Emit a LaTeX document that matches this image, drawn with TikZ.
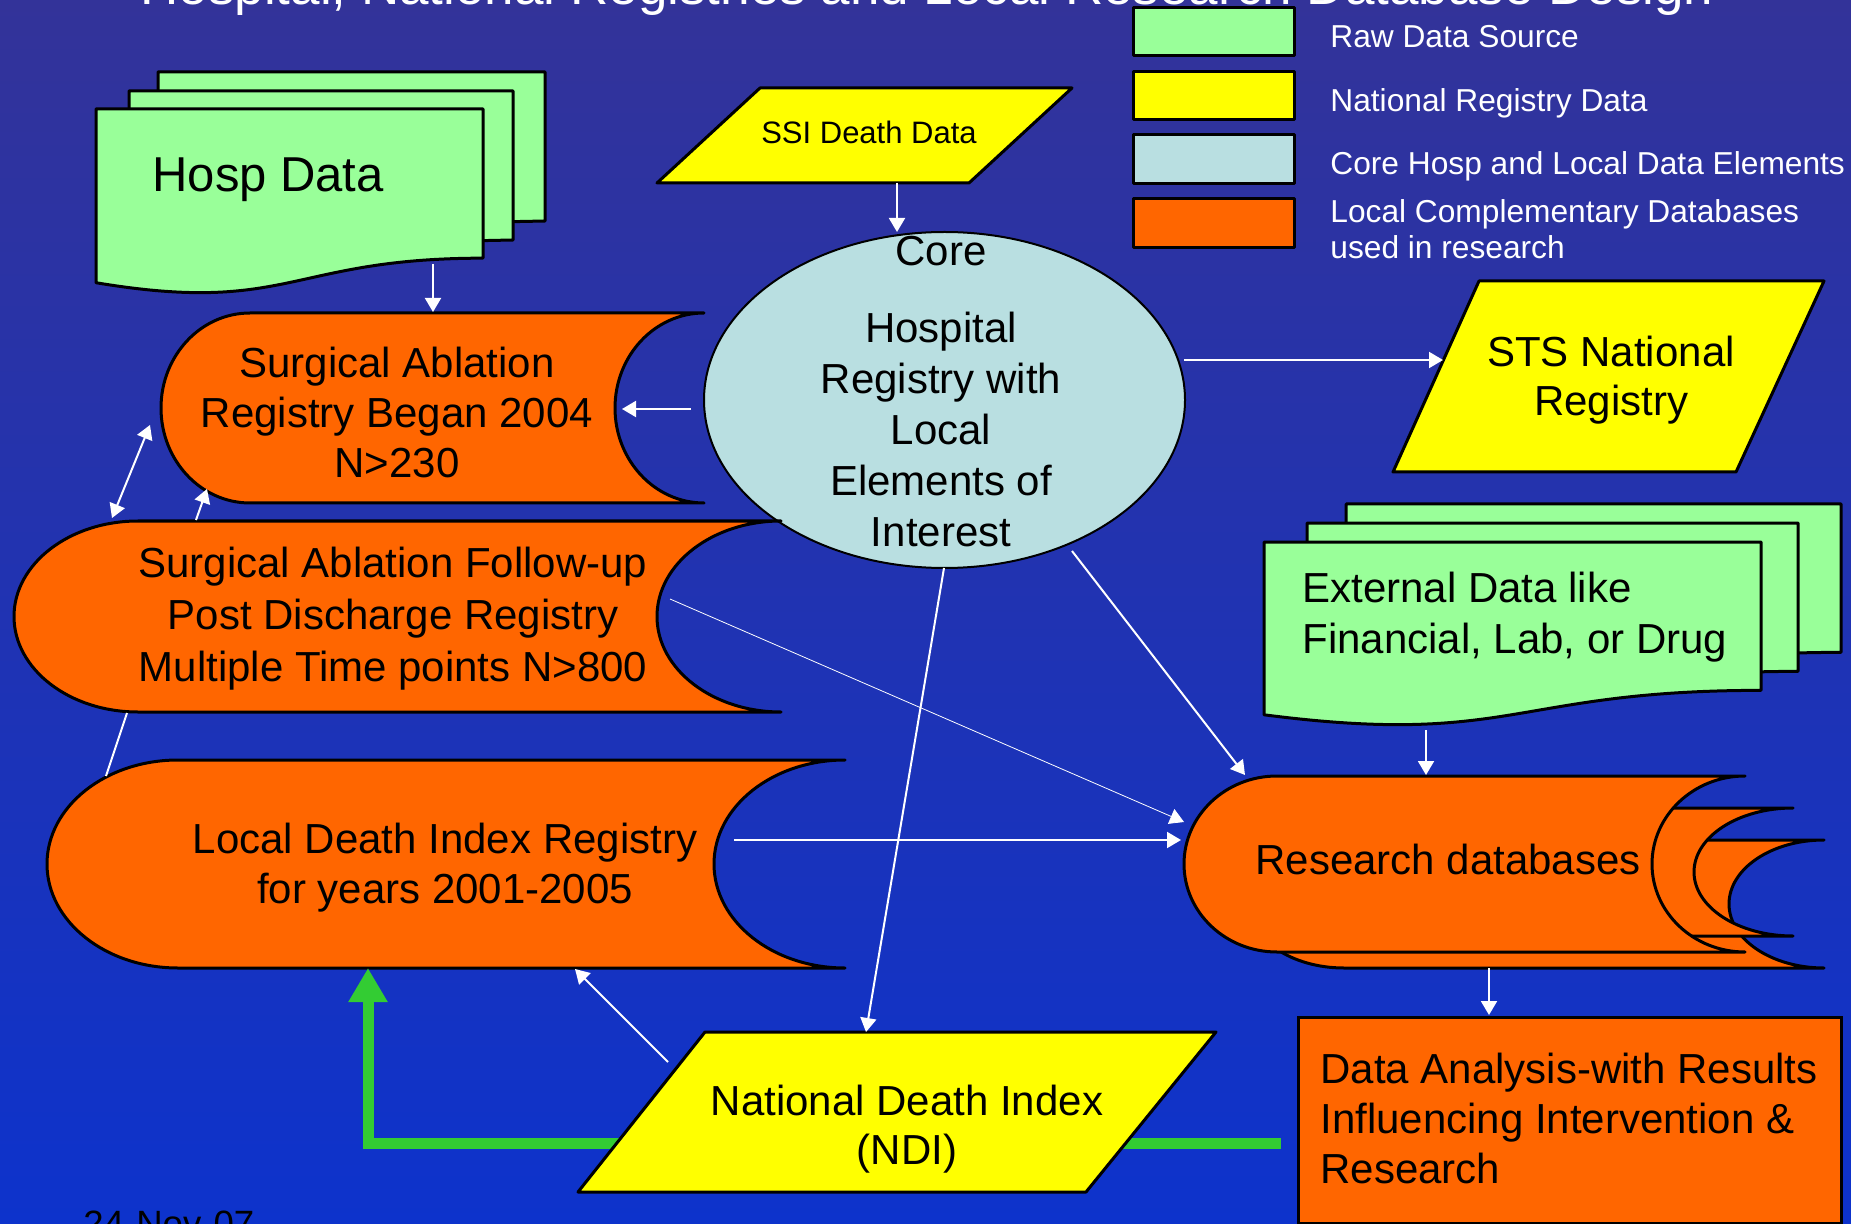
\documentclass[tikz,border=0pt]{standalone}
\usepackage{fontspec}
\setmainfont{Liberation Sans}
\usetikzlibrary{arrows.meta,shapes.geometric}

\definecolor{bgtop}{RGB}{51,51,153}
\definecolor{bgbot}{RGB}{13,51,204}
\definecolor{rawgreen}{RGB}{153,255,153}
\definecolor{natyellow}{RGB}{255,255,0}
\definecolor{corecol}{RGB}{185,223,225}
\definecolor{localorange}{RGB}{255,102,0}
\definecolor{arrowgreen}{RGB}{51,204,51}

\newcommand\mlc[1]{\begin{tabular}[t]{@{}c@{}}#1\end{tabular}}
\newcommand\mll[1]{\begin{tabular}[t]{@{}l@{}}#1\end{tabular}}

% stored-data shape: xl, yt, xr, yb, bulge
\newcommand\storeddata[6][]{%
  \filldraw[#1] (#2,#3) -- (#4,#3)
    .. controls +({-0.5523*#6},0) and +(0,{-0.5523*(#5-#3)/2}) .. ({#4-#6},{(#3+#5)/2})
    .. controls +(0,{0.5523*(#5-#3)/2}) and +({-0.5523*#6},0) .. (#4,#5)
    -- (#2,#5)
    .. controls +({-0.5523*#6},0) and +(0,{0.5523*(#5-#3)/2}) .. ({#2-#6},{(#3+#5)/2})
    .. controls +(0,{-0.5523*(#5-#3)/2}) and +({-0.5523*#6},0) .. (#2,#3) -- cycle;}

% document sheet: x0, y0, w, h
\newcommand\docsheet[5][]{%
  \filldraw[#1] (#2,#3) -- ({#2+#4},#3) -- ({#2+#4},{#3+0.802*#5})
    .. controls ({#2+#4/2},{#3+0.802*#5}) and ({#2+#4/2},{#3+1.1075*#5}) .. (#2,{#3+0.934*#5}) -- cycle;}

\begin{document}
\begin{tikzpicture}[x=0.5pt,y=-0.5pt,
  warrow/.style={white, line width=1pt, -{Triangle[length=7pt,width=8pt]}},
  outline/.style={draw=black, line width=1.5pt, line join=round},
  maintext/.style={font=\fontsize{21}{25}\selectfont, inner sep=0pt, text=black},
  legendtext/.style={font=\fontsize{15.85}{18}\selectfont, inner sep=0pt, text=white, anchor=base west},
]
\useasboundingbox (0,0) rectangle (1851,1224);
\clip (0,0) rectangle (1851,1224);
\shade[top color=bgtop, bottom color=bgbot] (0,0) rectangle (1851,1224);

% title (cut off at top)
\node[anchor=base, text=white, font=\fontsize{26.5}{30}\selectfont, inner sep=0pt] (title) at (927,5)
  {Hospital, National Registries and Local Research Database Design};

% legend
\filldraw[outline, fill=rawgreen] (1133,8) rectangle (1294,56);
\filldraw[outline, fill=natyellow] (1133,72) rectangle (1294,120);
\filldraw[outline, fill=corecol] (1133,135) rectangle (1294,184);
\filldraw[outline, fill=localorange] (1133,199) rectangle (1294,248);
\node[legendtext] (lg1) at (1330,48) {Raw Data Source};
\node[legendtext] (lg2) at (1330,112) {National Registry Data};
\node[legendtext] (lg3) at (1330,175) {Core Hosp and Local Data Elements};
\node[legendtext] (lg4) at (1330,223) {\mll{Local Complementary Databases\\used in research}};

% Hosp Data sheets
\docsheet[outline, fill=rawgreen]{158}{72}{387}{186}
\docsheet[outline, fill=rawgreen]{129}{91}{384}{186}
\docsheet[outline, fill=rawgreen]{96}{109}{387}{186}
\node[anchor=base west, font=\fontsize{24.5}{28}\selectfont, inner sep=0pt] (hosp) at (152,192) {Hosp Data};

% SSI Death Data
\filldraw[outline, fill=natyellow] (760,88) -- (1072,88) -- (969,183) -- (657,183) -- cycle;
\node[anchor=base, font=\fontsize{15.5}{18}\selectfont, inner sep=0pt] (ssi) at (869,144) {SSI Death Data};

% Core ellipse
\node[ellipse, draw=black, line width=1pt, fill=corecol, minimum width=240.5pt, minimum height=168pt, inner sep=0pt] (core) at (944.5,400) {};
\node[maintext, anchor=base, font=\fontsize{21}{25.5}\selectfont] (coretext) at (941,266)
  {\mlc{Core\\[13pt]Hospital\\Registry with\\Local\\Elements of\\Interest}};

% STS National Registry
\filldraw[outline, fill=natyellow] (1479,281) -- (1824,281) -- (1736,472) -- (1393,472) -- cycle;
\node[maintext, anchor=base, font=\fontsize{21}{24.5}\selectfont] (sts) at (1611,367) {\mlc{STS National\\Registry}};

% orange stored-data shapes
\storeddata[outline, fill=localorange]{250}{313}{704}{503}{89}
\node[maintext, anchor=base] (surg) at (397,378) {\mlc{Surgical Ablation\\Registry Began 2004\\N>230}};

\storeddata[outline, fill=localorange]{138}{521}{781}{712}{124}
\node[maintext, anchor=base, font=\fontsize{21}{26.2}\selectfont] (follow) at (393,577)
  {\mlc{Surgical Ablation Follow-up\\Post Discharge Registry\\Multiple Time points N>800}};

\storeddata[outline, fill=localorange]{178}{760}{845}{968}{131}
\node[maintext, anchor=base] (local) at (445,853) {\mlc{Local Death Index Registry\\for years 2001-2005}};

% External data sheets
\docsheet[outline, fill=rawgreen]{1346}{504}{495}{185}
\docsheet[outline, fill=rawgreen]{1307}{523}{491}{185}
\docsheet[outline, fill=rawgreen]{1264}{542}{497}{185}
\node[maintext, anchor=base west, font=\fontsize{21}{25.5}\selectfont] (ext) at (1302,602) {\mll{External Data like\\Financial, Lab, or Drug}};

% Research databases (stacked)
\storeddata[outline, fill=localorange]{1344}{840}{1824}{968}{95}
\storeddata[outline, fill=localorange]{1320}{808}{1793}{936}{99}
\storeddata[outline, fill=localorange]{1277}{776}{1745}{952}{93}
\node[maintext, anchor=base] (research) at (1448,874) {Research databases};

% Data analysis box
\node[draw=black, line width=1.5pt, fill=localorange, minimum width=271.5pt, minimum height=103pt, anchor=north west, inner sep=0pt] (da) at (1297,1016) {};
\node[maintext, anchor=base west] (datext) at (1320,1083) {\mll{Data Analysis-with Results\\Influencing Intervention \&\\Research}};

% green feedback arrow (behind NDI)
\coordinate (gstart) at (1281,1143);
\coordinate (gend) at (368,968);
\draw[arrowgreen, line width=5.5pt, -{Triangle[length=17pt,width=18.5pt]}] (gstart) -| (gend);

% National Death Index
\filldraw[outline, fill=natyellow] (705,1032) -- (1216,1032) -- (1086,1192) -- (578,1192) -- cycle;
\node[maintext, anchor=base, font=\fontsize{21}{24.5}\selectfont] (ndi) at (907,1115) {\mlc{National Death Index\\(NDI)}};

% date
\node[anchor=base west, font=\fontsize{18.3}{20}\selectfont, inner sep=0pt, text=black] (date) at (83,1236) {24-Nov-07};

% connector end points
\coordinate (hospout) at (433,264);   \coordinate (surgin) at (433,312);
\coordinate (ssiout) at (897,183);    \coordinate (corein) at (897,232);
\coordinate (coreW) at (691,409);     \coordinate (surgE) at (622,409);
\coordinate (surgW) at (150,425);     \coordinate (followN) at (112,518);
\coordinate (followN2) at (196,520);  \coordinate (surgSW) at (207,489);
\coordinate (followS) at (127,713);   \coordinate (localN) at (106,776);
\coordinate (coreE) at (1184,360);    \coordinate (stsW) at (1443,360);
\coordinate (coreSE) at (1072,551);   \coordinate (resNW) at (1245,775);
\coordinate (coreS) at (944,568);     \coordinate (ndiN) at (866,1032);
\coordinate (followE) at (670,599);   \coordinate (resW1) at (1184,822);
\coordinate (localE) at (734,840);    \coordinate (resW2) at (1181,840);
\coordinate (extS) at (1426,730);     \coordinate (resN) at (1426,775);
\coordinate (resS) at (1489,968);     \coordinate (daN) at (1489,1015);
\coordinate (ndiNW) at (668,1062);    \coordinate (localS) at (575,969);

% white connectors
\draw[warrow] (hospout) -- (surgin);
\draw[warrow] (ssiout) -- (corein);
\draw[warrow] (coreW) -- (surgE);
\draw[white, line width=1pt, {Triangle[length=7pt,width=8pt]}-{Triangle[length=7pt,width=8pt]}] (surgW) -- (followN);
\draw[warrow] (followN2) -- (surgSW);
\draw[white, line width=1pt] (followS) -- (localN);
\draw[warrow] (coreE) -- (stsW);
\draw[warrow] (coreSE) -- (resNW);
\draw[warrow] (coreS) -- (ndiN);
\draw[white, line width=0.4pt, -{Triangle[length=7pt,width=8pt]}] (followE) -- (resW1);
\draw[warrow] (localE) -- (resW2);
\draw[warrow] (extS) -- (resN);
\draw[warrow] (resS) -- (daN);
\draw[warrow] (ndiNW) -- (localS);
\end{tikzpicture}
\end{document}
